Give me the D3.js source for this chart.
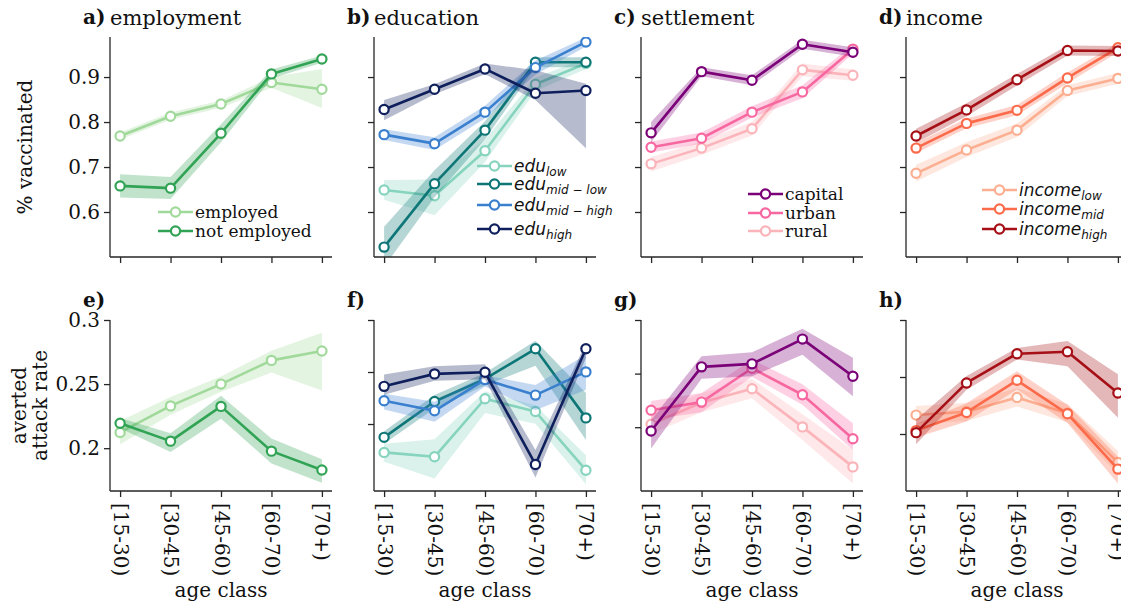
<!DOCTYPE html>
<html>
<head>
<meta charset="utf-8">
<script src="https://cdn.jsdelivr.net/npm/d3@7"></script>
<style>
  body { margin: 0; background: #fff; }
  svg text { font-family: "DejaVu Serif", serif; fill: #111; }
</style>
</head>
<body>
<div id="chart"></div>
<script>
// age classes on the x axis
const ageClasses = ["[15-30)", "[30-45)", "[45-60)", "[60-70)", "[70+)"];

// ---- % vaccinated (top row) ----
const vacEmployed = [0.769, 0.813, 0.840, 0.888, 0.873];
const vacEmployedLo = [0.761, 0.805, 0.832, 0.876, 0.831];
const vacEmployedHi = [0.777, 0.821, 0.848, 0.900, 0.918];
const vacNotEmployed = [0.658, 0.653, 0.775, 0.907, 0.940];
const vacNotEmployedLo = [0.632, 0.629, 0.755, 0.897, 0.932];
const vacNotEmployedHi = [0.684, 0.678, 0.795, 0.917, 0.948];

const vacEduLow = [0.649, 0.636, 0.736, 0.884, 0.930];
const vacEduLowLo = [0.627, 0.593, 0.711, 0.869, 0.918];
const vacEduLowHi = [0.671, 0.672, 0.761, 0.899, 0.942];
const vacEduMidLow = [0.522, 0.663, 0.782, 0.933, 0.933];
const vacEduMidLowLo = [0.478, 0.633, 0.762, 0.922, 0.922];
const vacEduMidLowHi = [0.567, 0.693, 0.802, 0.944, 0.944];
const vacEduMidHigh = [0.772, 0.752, 0.822, 0.921, 0.978];
const vacEduMidHighLo = [0.760, 0.738, 0.808, 0.905, 0.968];
const vacEduMidHighHi = [0.784, 0.766, 0.836, 0.937, 0.988];
const vacEduHigh = [0.828, 0.873, 0.918, 0.864, 0.870];
const vacEduHighLo = [0.804, 0.862, 0.906, 0.849, 0.742];
const vacEduHighHi = [0.849, 0.884, 0.930, 0.915, 0.885];

const vacCapital = [0.776, 0.912, 0.893, 0.973, 0.955];
const vacCapitalLo = [0.755, 0.902, 0.882, 0.963, 0.945];
const vacCapitalHi = [0.800, 0.922, 0.904, 0.983, 0.966];
const vacUrban = [0.744, 0.764, 0.822, 0.867, 0.962];
const vacUrbanLo = [0.732, 0.752, 0.810, 0.853, 0.952];
const vacUrbanHi = [0.757, 0.777, 0.835, 0.882, 0.972];
const vacRural = [0.707, 0.742, 0.785, 0.916, 0.904];
const vacRuralLo = [0.690, 0.727, 0.770, 0.902, 0.892];
const vacRuralHi = [0.722, 0.757, 0.800, 0.930, 0.917];

const vacIncLow = [0.686, 0.738, 0.782, 0.870, 0.897];
const vacIncLowLo = [0.668, 0.722, 0.767, 0.858, 0.885];
const vacIncLowHi = [0.705, 0.755, 0.797, 0.882, 0.909];
const vacIncMid = [0.742, 0.797, 0.826, 0.898, 0.965];
const vacIncMidLo = [0.731, 0.786, 0.815, 0.886, 0.955];
const vacIncMidHi = [0.754, 0.808, 0.838, 0.910, 0.975];
const vacIncHigh = [0.769, 0.827, 0.894, 0.959, 0.958];
const vacIncHighLo = [0.754, 0.813, 0.881, 0.948, 0.947];
const vacIncHighHi = [0.785, 0.842, 0.907, 0.970, 0.969];

// ---- averted attack rate (bottom row) ----
const avEmployed = [0.2123, 0.233, 0.250, 0.2685, 0.2758];
const avEmployedLo = [0.203, 0.226, 0.244, 0.259, 0.245];
const avEmployedHi = [0.2213, 0.240, 0.256, 0.276, 0.290];
const avNotEmployed = [0.2195, 0.2055, 0.2326, 0.1977, 0.183];
const avNotEmployedLo = [0.2155, 0.197, 0.223, 0.188, 0.173];
const avNotEmployedHi = [0.2235, 0.2117, 0.241, 0.2075, 0.1914];

const avEduLow = [0.1727, 0.1685, 0.2243, 0.212, 0.1556];
const avEduLowLo = [0.1638, 0.1475, 0.2105, 0.2002, 0.142];
const avEduLowHi = [0.181, 0.1853, 0.2314, 0.2179, 0.170];
const avEduMidLow = [0.1872, 0.2217, 0.2433, 0.2723, 0.2059];
const avEduMidLowLo = [0.181, 0.215, 0.237, 0.256, 0.1847];
const avEduMidLowHi = [0.193, 0.228, 0.249, 0.280, 0.2298];
const avEduMidHigh = [0.2223, 0.2127, 0.2427, 0.2278, 0.2501];
const avEduMidHighLo = [0.214, 0.2022, 0.236, 0.2133, 0.2329];
const avEduMidHighHi = [0.229, 0.2215, 0.247, 0.2375, 0.2667];
const avEduHigh = [0.2362, 0.2482, 0.2497, 0.1611, 0.2723];
const avEduHighLo = [0.2281, 0.2417, 0.243, 0.1485, 0.2636];
const avEduHighHi = [0.2475, 0.2555, 0.2575, 0.175, 0.278];

const avCapital = [0.1965, 0.2563, 0.2591, 0.2822, 0.2475];
const avCapitalLo = [0.1802, 0.2451, 0.2475, 0.2677, 0.2288];
const avCapitalHi = [0.2068, 0.2663, 0.2699, 0.2918, 0.2648];
const avUrban = [0.2159, 0.2234, 0.255, 0.2303, 0.1893];
const avUrbanLo = [0.207, 0.214, 0.247, 0.221, 0.1787];
const avUrbanHi = [0.2245, 0.232, 0.263, 0.240, 0.2037];
const avRural = [0.2028, 0.2231, 0.2359, 0.2003, 0.163];
const avRuralLo = [0.194, 0.214, 0.227, 0.188, 0.1475];
const avRuralHi = [0.212, 0.232, 0.245, 0.212, 0.1787];

const avIncLow = [0.2166, 0.2195, 0.2321, 0.2183, 0.1751];
const avIncLowLo = [0.209, 0.2115, 0.2241, 0.2103, 0.165];
const avIncLowHi = [0.2246, 0.2275, 0.2401, 0.2263, 0.185];
const avIncMid = [0.203, 0.2189, 0.2471, 0.2177, 0.1692];
const avIncMidLo = [0.197, 0.2109, 0.2391, 0.2097, 0.1566];
const avIncMidHi = [0.209, 0.2269, 0.2551, 0.2257, 0.1801];
const avIncHigh = [0.2012, 0.2448, 0.2704, 0.2721, 0.236];
const avIncHighLo = [0.191, 0.2388, 0.2654, 0.2594, 0.2143];
const avIncHighHi = [0.2125, 0.2508, 0.2754, 0.2815, 0.2525];

// axis limits and ticks
const vacTicks = [0.6, 0.7, 0.8, 0.9];
const avTicks = [0.2, 0.25, 0.3];
const vacDomain = [0.5, 0.989];
const avDomains = [[0.1666, 0.3], [0.1356, 0.3], [0.1405, 0.3], [0.150, 0.3]];

// colours per group
const greens = ["#a1d99b", "#31a354"];
const eduColors = ["#86d3be", "#0e7676", "#3a80cf", "#0e1f5c"];
const settleColors = ["#7a0177", "#f768a1", "#fbb4b9"];
const incomeColors = ["#fcae91", "#fb6a4a", "#a50f15"];

const W = 1121, H = 603;
const colLeft = [110, 374, 641, 906];
const panelW = 222;
const topRow = { y0: 37, y1: 257 };
const botRow = { y0: 320, y1: 491 };

const svg = d3.select("#chart").append("svg").attr("width", W).attr("height", H);
const defs = svg.append("defs");

function ser(mean, lo, hi, color) {
  return { mean, lo, hi, color };
}

// top row panels (legends live here)
const topPanels = [
  {
    letter: "a)", title: "employment",
    series: [
      ser(vacEmployed, vacEmployedLo, vacEmployedHi, greens[0]),
      ser(vacNotEmployed, vacNotEmployedLo, vacNotEmployedHi, greens[1]),
    ],
    legend: { x: 158, rows: [212, 231], labels: [{ t: "employed" }, { t: "not employed" }], order: [0, 1] },
  },
  {
    letter: "b)", title: "education",
    series: [
      ser(vacEduLow, vacEduLowLo, vacEduLowHi, eduColors[0]),
      ser(vacEduMidLow, vacEduMidLowLo, vacEduMidLowHi, eduColors[1]),
      ser(vacEduMidHigh, vacEduMidHighLo, vacEduMidHighHi, eduColors[2]),
      ser(vacEduHigh, vacEduHighLo, vacEduHighHi, eduColors[3]),
    ],
    legend: {
      x: 477, rows: [166, 184, 205, 229],
      labels: [
        { m: "edu", sub: ["low"] },
        { m: "edu", sub: ["mid", "low"] },
        { m: "edu", sub: ["mid", "high"] },
        { m: "edu", sub: ["high"] },
      ],
      order: [0, 1, 2, 3],
    },
  },
  {
    letter: "c)", title: "settlement",
    series: [
      ser(vacRural, vacRuralLo, vacRuralHi, settleColors[2]),
      ser(vacUrban, vacUrbanLo, vacUrbanHi, settleColors[1]),
      ser(vacCapital, vacCapitalLo, vacCapitalHi, settleColors[0]),
    ],
    legend: {
      x: 748, rows: [194, 213, 231],
      labels: [{ t: "rural" }, { t: "urban" }, { t: "capital" }],
      order: [2, 1, 0],
    },
  },
  {
    letter: "d)", title: "income",
    series: [
      ser(vacIncLow, vacIncLowLo, vacIncLowHi, incomeColors[0]),
      ser(vacIncMid, vacIncMidLo, vacIncMidHi, incomeColors[1]),
      ser(vacIncHigh, vacIncHighLo, vacIncHighHi, incomeColors[2]),
    ],
    legend: {
      x: 982, rows: [190, 209, 229],
      labels: [{ m: "income", sub: ["low"] }, { m: "income", sub: ["mid"] }, { m: "income", sub: ["high"] }],
      order: [0, 1, 2],
    },
  },
];

const botPanels = [
  { letter: "e)", series: [
      ser(avEmployed, avEmployedLo, avEmployedHi, greens[0]),
      ser(avNotEmployed, avNotEmployedLo, avNotEmployedHi, greens[1]),
  ] },
  { letter: "f)", series: [
      ser(avEduLow, avEduLowLo, avEduLowHi, eduColors[0]),
      ser(avEduMidLow, avEduMidLowLo, avEduMidLowHi, eduColors[1]),
      ser(avEduMidHigh, avEduMidHighLo, avEduMidHighHi, eduColors[2]),
      ser(avEduHigh, avEduHighLo, avEduHighHi, eduColors[3]),
  ] },
  { letter: "g)", series: [
      ser(avRural, avRuralLo, avRuralHi, settleColors[2]),
      ser(avUrban, avUrbanLo, avUrbanHi, settleColors[1]),
      ser(avCapital, avCapitalLo, avCapitalHi, settleColors[0]),
  ] },
  { letter: "h)", series: [
      ser(avIncLow, avIncLowLo, avIncLowHi, incomeColors[0]),
      ser(avIncMid, avIncMidLo, avIncMidHi, incomeColors[1]),
      ser(avIncHigh, avIncHighLo, avIncHighHi, incomeColors[2]),
  ] },
];

const axisColor = "#262626";

function drawPanel(id, left, row, y, p, showYLabels, yTicks, showXLabels) {
  const x = d3.scalePoint().domain(ageClasses).range([left, left + panelW]).padding(0.2);
  const g = svg.append("g");

  defs.append("clipPath").attr("id", id)
    .append("rect")
    .attr("x", left).attr("y", row.y0)
    .attr("width", panelW).attr("height", row.y1 - row.y0);

  const plot = g.append("g").attr("clip-path", "url(#" + id + ")");

  const area = d3.area()
    .x((d, i) => x(ageClasses[i]))
    .y0((d) => y(d[0]))
    .y1((d) => y(d[1]));
  const line = d3.line()
    .x((d, i) => x(ageClasses[i]))
    .y((d) => y(d));

  p.series.forEach(function (s) {
    plot.append("path")
      .datum(s.lo.map((v, i) => [v, s.hi[i]]))
      .attr("d", area)
      .attr("fill", s.color)
      .attr("fill-opacity", 0.3);
    plot.append("path")
      .datum(s.mean)
      .attr("d", line)
      .attr("fill", "none")
      .attr("stroke", s.color)
      .attr("stroke-width", 2.6)
      .attr("stroke-linejoin", "round");
    plot.selectAll(null)
      .data(s.mean)
      .enter()
      .append("circle")
      .attr("cx", (d, i) => x(ageClasses[i]))
      .attr("cy", (d) => y(d))
      .attr("r", 4.6)
      .attr("fill", "white")
      .attr("stroke", s.color)
      .attr("stroke-width", 2.2);
  });

  // y axis
  const yAxis = d3.axisLeft(y)
    .tickValues(yTicks)
    .tickSize(6)
    .tickSizeOuter(0)
    .tickPadding(4)
    .tickFormat(showYLabels ? (d) => String(+d.toFixed(2)) : "");
  const ya = g.append("g").attr("transform", "translate(" + left + ",0)").call(yAxis);
  ya.select(".domain").remove();
  ya.selectAll(".tick line").attr("stroke", axisColor).attr("stroke-width", 1.3);
  ya.selectAll(".tick text")
    .attr("font-family", "DejaVu Serif")
    .attr("font-size", 20)
    .attr("fill", "#111");
  g.append("line")
    .attr("x1", left).attr("x2", left)
    .attr("y1", row.y0).attr("y2", row.y1)
    .attr("stroke", axisColor).attr("stroke-width", 1.3);

  // x axis
  const xAxis = d3.axisBottom(x).tickSize(6).tickSizeOuter(0).tickPadding(6)
    .tickFormat(showXLabels ? (d) => d : "");
  const xa = g.append("g").attr("transform", "translate(0," + row.y1 + ")").call(xAxis);
  xa.select(".domain").remove();
  xa.selectAll(".tick line").attr("stroke", axisColor).attr("stroke-width", 1.3);
  xa.selectAll(".tick text")
    .attr("font-family", "DejaVu Serif")
    .attr("font-size", 20)
    .attr("fill", "#111")
    .attr("text-anchor", "start")
    .attr("dy", null)
    .attr("dominant-baseline", "central")
    .attr("transform", "translate(0,12) rotate(90)")
    .attr("y", 0)
    .attr("x", 0);
  g.append("line")
    .attr("x1", left).attr("x2", left + panelW)
    .attr("y1", row.y1).attr("y2", row.y1)
    .attr("stroke", axisColor).attr("stroke-width", 1.3);

  // panel letter (+ title)
  const tt = svg.append("text").attr("x", left - 27).attr("y", row.y0 - 13);
  tt.append("tspan").attr("font-weight", "bold").attr("font-size", 20).text(p.letter);
  if (p.title) {
    svg.append("text")
      .attr("x", left)
      .attr("y", row.y0 - 12)
      .attr("font-size", 21)
      .text(p.title);
  }
  return x;
}

function drawLegend(p) {
  const lg = svg.append("g");
  p.legend.order.forEach(function (si, k) {
    const s = p.series[si];
    const yy = p.legend.rows[k];
    const x0 = p.legend.x;
    lg.append("line")
      .attr("x1", x0).attr("x2", x0 + 35)
      .attr("y1", yy).attr("y2", yy)
      .attr("stroke", s.color).attr("stroke-width", 2.6);
    lg.append("circle")
      .attr("cx", x0 + 17.5).attr("cy", yy).attr("r", 4.6)
      .attr("fill", "white").attr("stroke", s.color).attr("stroke-width", 2.2);
    const lab = p.legend.labels[si];
    const t = lg.append("text")
      .attr("x", x0 + 37)
      .attr("y", yy + 6)
      .attr("font-size", 17);
    if (lab.t) {
      t.text(lab.t);
    } else {
      t.append("tspan")
        .attr("font-family", "DejaVu Sans")
        .attr("font-style", "italic")
        .text(lab.m);
      lab.sub.forEach(function (part, j) {
        if (j > 0) {
          t.append("tspan")
            .attr("font-family", "DejaVu Sans")
            .attr("font-size", 12)
            .text(" \u2212 ");
        }
        t.append("tspan")
          .attr("font-family", "DejaVu Sans")
          .attr("font-style", "italic")
          .attr("font-size", 12)
          .attr("dy", j === 0 ? 4 : 0)
          .text(part);
      });
    }
  });
}

topPanels.forEach(function (p, i) {
  const y = d3.scaleLinear().domain(vacDomain).range([topRow.y1, topRow.y0]);
  drawPanel("clipTop" + i, colLeft[i], topRow, y, p, i === 0, vacTicks, false);
  drawLegend(p);
});

botPanels.forEach(function (p, i) {
  const y = d3.scaleLinear().domain(avDomains[i]).range([botRow.y1, botRow.y0]);
  drawPanel("clipBot" + i, colLeft[i], botRow, y, p, i === 0, avTicks, true);
  svg.append("text")
    .attr("x", colLeft[i] + panelW / 2)
    .attr("y", 597)
    .attr("text-anchor", "middle")
    .attr("font-size", 20)
    .text("age class");
});

// y labels
svg.append("text")
  .attr("transform", "translate(32," + (topRow.y0 + topRow.y1) / 2 + ") rotate(-90)")
  .attr("text-anchor", "middle")
  .attr("font-size", 20)
  .text("% vaccinated");

const avLabel = svg.append("text")
  .attr("transform", "translate(26," + (botRow.y0 + botRow.y1) / 2 + ") rotate(-90)")
  .attr("text-anchor", "middle")
  .attr("font-size", 20);
avLabel.append("tspan").attr("x", 0).attr("y", 0).text("averted");
avLabel.append("tspan").attr("x", 0).attr("y", 21).text("attack rate");
</script>
</body>
</html>
